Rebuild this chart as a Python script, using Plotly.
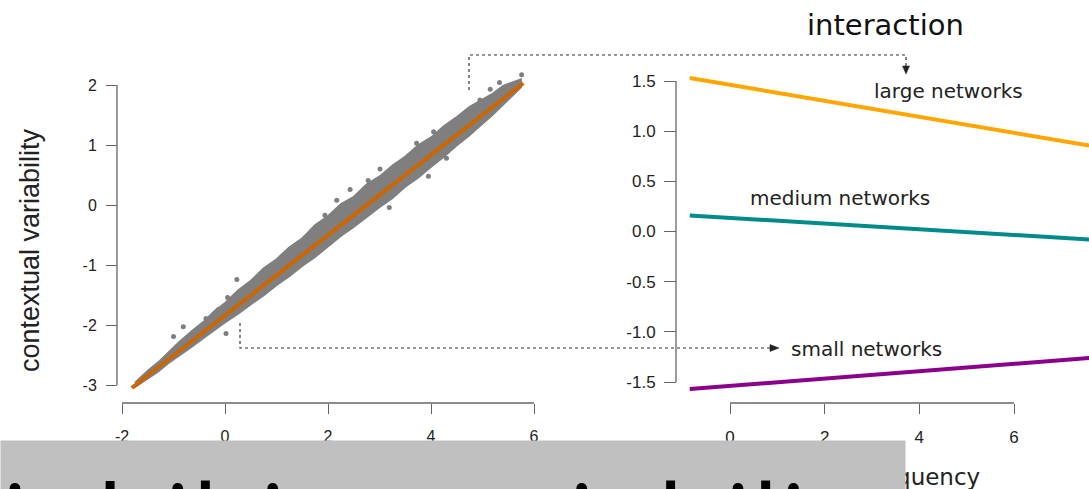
import plotly.graph_objects as go

W, H = 1089, 489

# ---------------- data ----------------
# left panel: fitted line and the dense point cloud (band edges)
fit_x = [-1.81, 5.79]
fit_y = [-3.05, 2.03]
band_x = [-1.75, -1.5, -1.3, -1.1, -0.9, -0.65, -0.4, -0.2, 0.0, 0.25, 0.5, 0.75, 1.0, 1.25, 1.5, 1.75,
          2.0, 2.25, 2.5, 2.75, 3.0, 3.25, 3.5, 3.75, 4.0, 4.25, 4.5, 4.75, 5.0, 5.2, 5.4, 5.6, 5.75]
band_upper = [-2.96, -2.76, -2.62, -2.45, -2.29, -2.10, -1.93, -1.76, -1.63, -1.42, -1.26, -1.05, -0.90, -0.70,
              -0.55, -0.33, -0.18, 0.02, 0.14, 0.35, 0.48, 0.66, 0.81, 1.00, 1.13, 1.32, 1.47, 1.64, 1.77, 1.86, 1.99, 2.06, 2.10]
band_lower = [-3.04, -2.90, -2.78, -2.64, -2.52, -2.37, -2.21, -2.08, -1.96, -1.82, -1.66, -1.51, -1.34, -1.19,
              -1.02, -0.87, -0.70, -0.52, -0.37, -0.21, -0.04, 0.11, 0.30, 0.45, 0.63, 0.80, 0.99, 1.16, 1.35, 1.50, 1.67, 1.83, 1.96]
pts_x = [0.23, -0.81, -1.0, -0.13, 0.02, 0.05, -0.37, 3.01, 2.43, 3.19, 3.95, 5.15, 5.33, 5.76,
         3.72, 2.78, 4.05, 4.24, 2.17, 1.94, 4.69, 4.95, 4.30, 4.56, 3.40, 2.62]
pts_y = [-1.24, -2.03, -2.19, -1.74, -2.14, -1.54, -1.89, 0.60, 0.26, -0.04, 0.48, 1.93, 2.04, 2.17,
         1.03, 0.41, 1.22, 1.22, 0.08, -0.17, 1.56, 1.75, 0.78, 1.08, 0.28, -0.19]

# right panel: interaction lines
freq_x = [-0.85, 7.6]
large_y = [1.53, 0.855]
medium_y = [0.16, -0.08]
small_y = [-1.57, -1.26]

left_xticks = [-2, 0, 2, 4, 6]
left_xtick_text = ["-2", "0", "2", "4", "6"]
left_yticks = [-3, -2, -1, 0, 1, 2]
left_ytick_text = ["-3", "-2", "-1", "0", "1", "2"]
right_xticks = [0, 2, 4, 6]
right_yticks = [-1.5, -1.0, -0.5, 0.0, 0.5, 1.0, 1.5]
right_ytick_text = ["-1.5", "-1.0", "-0.5", "0.0", "0.5", "1.0", "1.5"]

# ---------------- helpers ----------------
def px(p):
    return p / W

def py(p):
    return 1 - p / H

def lin_range(p0, p1, va, pa, vb, pb):
    s = (vb - va) / (pb - pa)
    return [va + (p0 - pa) * s, va + (p1 - pa) * s]

AX = "#666666"
TXT = "#222222"
tickfont = dict(family="Liberation Sans, Arial, sans-serif", size=16, color=TXT)
tickfont_r = dict(family="Liberation Sans, Arial, sans-serif", size=17, color=TXT)

fig = go.Figure()

fig.add_trace(go.Scatter(x=band_x + band_x[::-1], y=band_upper + band_lower[::-1],
                         fill="toself", fillcolor="#7f7f7f", mode="lines",
                         line=dict(color="#7f7f7f", width=1.5), xaxis="x", yaxis="y",
                         hoverinfo="skip"))
fig.add_trace(go.Scatter(x=pts_x, y=pts_y, mode="markers",
                         marker=dict(color="#7f7f7f", size=5), xaxis="x", yaxis="y"))
fig.add_trace(go.Scatter(x=fit_x, y=fit_y, mode="lines",
                         line=dict(color="#cd6600", width=4), xaxis="x", yaxis="y"))

fig.add_trace(go.Scatter(x=freq_x, y=large_y, mode="lines",
                         line=dict(color="#ffa500", width=4), xaxis="x2", yaxis="y2"))
fig.add_trace(go.Scatter(x=freq_x, y=medium_y, mode="lines",
                         line=dict(color="#008b8b", width=4), xaxis="x2", yaxis="y2"))
fig.add_trace(go.Scatter(x=freq_x, y=small_y, mode="lines",
                         line=dict(color="#8b008b", width=4), xaxis="x2", yaxis="y2"))

common = dict(showgrid=False, zeroline=False, showline=False, ticks="outside",
              tickcolor=AX, tickwidth=1.3)

fig.update_layout(
    width=W, height=H, margin=dict(l=0, r=0, t=0, b=0),
    paper_bgcolor="white", plot_bgcolor="white", showlegend=False,
    xaxis=dict(domain=[px(100), px(550)], range=lin_range(100, 550, -2, 122, 6, 534),
               anchor="free", position=py(403), tickvals=left_xticks, ticktext=left_xtick_text,
               ticklen=10, tickfont=tickfont, ticklabelstandoff=9, **common),
    yaxis=dict(domain=[py(400), py(68)], range=lin_range(400, 68, -3, 385, 2, 85),
               anchor="free", position=px(117), tickvals=left_yticks, ticktext=left_ytick_text,
               ticklen=11, tickfont=tickfont, ticklabelstandoff=6, **common),
    xaxis2=dict(domain=[px(678), 1.0], range=lin_range(678, 1089, 0, 730, 6, 1014),
                anchor="free", position=py(403), tickvals=right_xticks, ticklen=10,
                tickfont=tickfont_r, ticklabelstandoff=9, **common),
    yaxis2=dict(domain=[py(400), py(68)], range=lin_range(400, 68, -1.5, 382, 1.5, 81),
                anchor="free", position=px(676), tickvals=right_yticks,
                ticktext=right_ytick_text, ticklen=12, tickfont=tickfont_r,
                ticklabelstandoff=5, **common),
)

# R-style axis lines spanning only the tick range
shapes = [
    dict(type="line", xref="x", yref="paper", x0=-2, x1=6, y0=py(403), y1=py(403),
         line=dict(color=AX, width=1.3)),
    dict(type="line", xref="paper", yref="y", x0=px(117), x1=px(117), y0=-3, y1=2,
         line=dict(color=AX, width=1.3)),
    dict(type="line", xref="x2", yref="paper", x0=0, x1=6, y0=py(403), y1=py(403),
         line=dict(color=AX, width=1.3)),
    dict(type="line", xref="paper", yref="y2", x0=px(676), x1=px(676), y0=-1.5, y1=1.5,
         line=dict(color=AX, width=1.3)),
]

def path(pts, close=False):
    s = "M " + " L ".join(f"{px(a):.5f},{py(b):.5f}" for a, b in pts)
    return s + (" Z" if close else "")

# dotted connectors
shapes.append(dict(type="path", xref="paper", yref="paper",
                   path=path([(469, 90), (469, 55), (906, 55), (906, 67)]),
                   line=dict(color="#333333", width=1.2, dash="dot")))
shapes.append(dict(type="path", xref="paper", yref="paper",
                   path=path([(240, 323), (240, 348), (771, 348)]),
                   line=dict(color="#333333", width=1.2, dash="dot")))
# arrow heads
shapes.append(dict(type="path", xref="paper", yref="paper",
                   path=path([(902.5, 66), (909.5, 66), (906, 74)], close=True),
                   fillcolor="#222222", line=dict(color="#222222", width=0.5)))
shapes.append(dict(type="path", xref="paper", yref="paper",
                   path=path([(770, 344.5), (770, 351.5), (779, 348)], close=True),
                   fillcolor="#222222", line=dict(color="#222222", width=0.5)))
fig.update_layout(shapes=shapes)

dv = "DejaVu Sans, Verdana, sans-serif"
ann = [
    dict(text="contextual variability", x=px(30), y=py(250), textangle=-90,
         font=dict(family="Liberation Sans, Arial, sans-serif", size=27, color=TXT)),
    dict(text="interaction", x=px(885), y=py(25), font=dict(family=dv, size=29, color="#111111")),
    dict(text="large networks", x=px(948), y=py(91), font=dict(family=dv, size=20, color=TXT)),
    dict(text="medium networks", x=px(840), y=py(198), font=dict(family=dv, size=20, color=TXT)),
    dict(text="small networks", x=px(866), y=py(349), font=dict(family=dv, size=20, color=TXT)),
    dict(text="word frequency", x=px(890), y=py(477), font=dict(family=dv, size=23, color=TXT)),
    dict(text="inhibits variability", x=0, y=py(440), xanchor="left", yanchor="top",
         width=904, height=160, align="left", valign="middle", borderpad=0,
         bgcolor="#c0c0c0", font=dict(family="Open Sans, sans-serif", size=110, color="#000000")),
]
for a in ann:
    a.setdefault("xref", "paper")
    a.setdefault("yref", "paper")
    a.setdefault("showarrow", False)
    a.setdefault("xanchor", "center")
    a.setdefault("yanchor", "middle")
fig.update_layout(annotations=ann)

fig.write_html("out.html")
